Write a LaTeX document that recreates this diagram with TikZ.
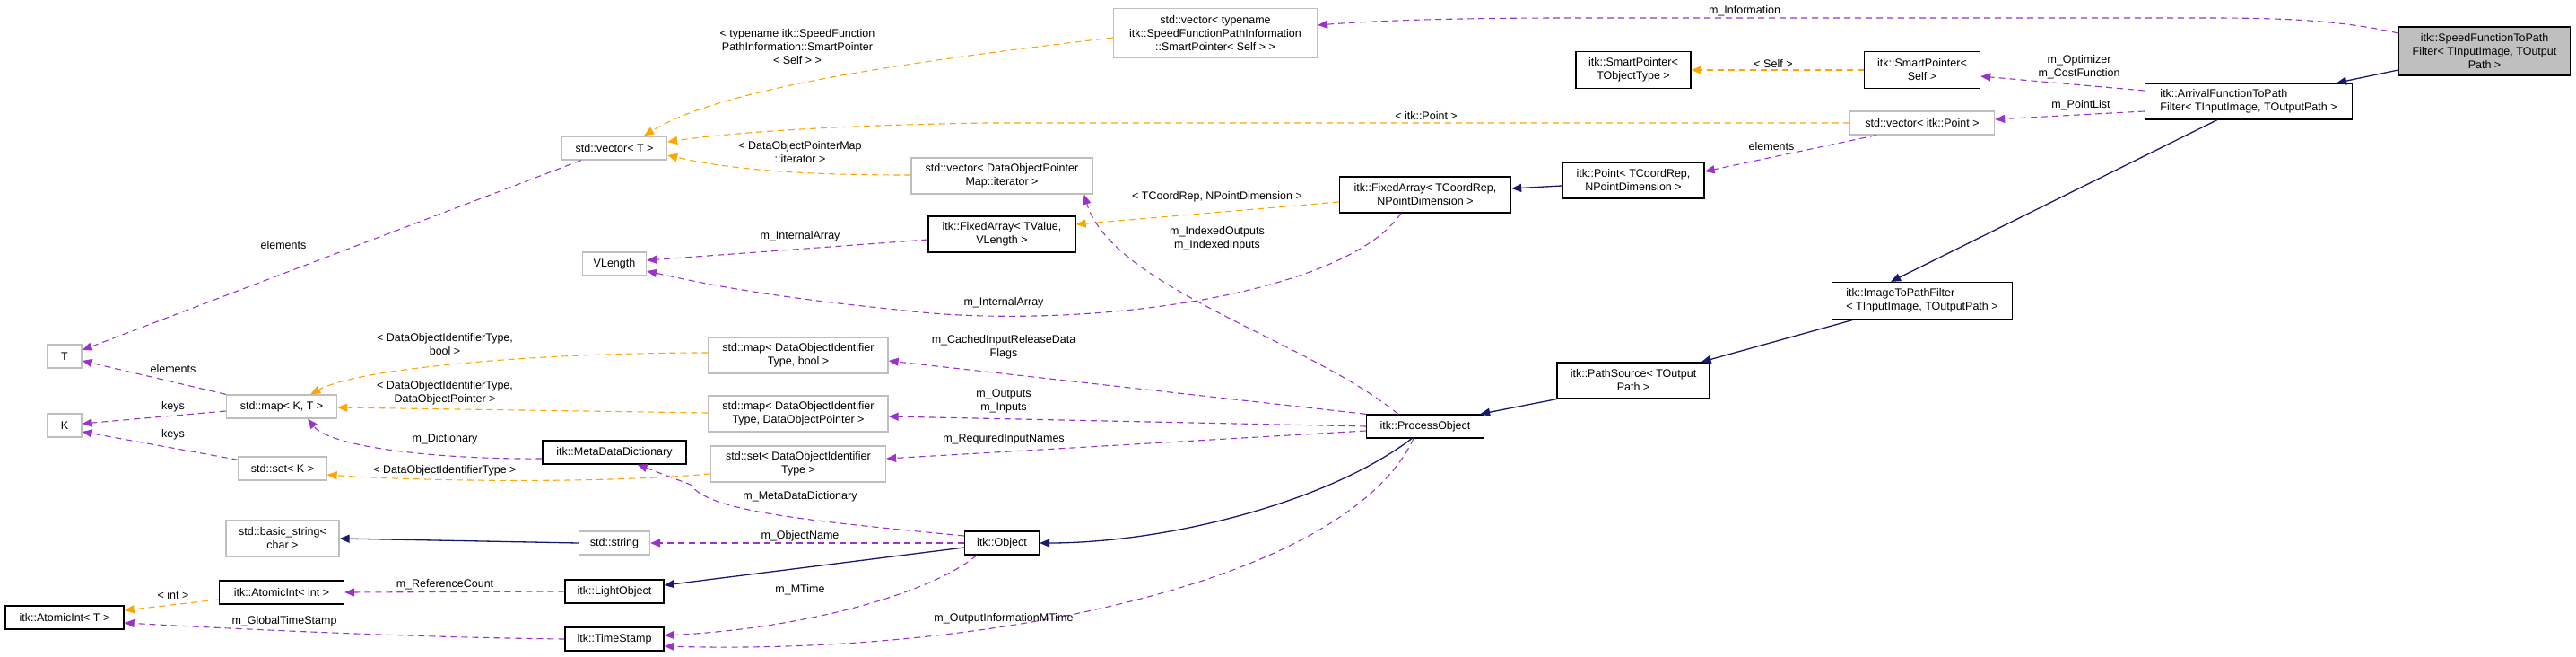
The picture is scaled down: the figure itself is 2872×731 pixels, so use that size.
\documentclass[tikz,border=0pt]{standalone}
\usepackage{fontspec}
\setmainfont{Liberation Sans}
\usetikzlibrary{arrows.meta,calc}
\definecolor{cpur}{HTML}{9A32CD}
\definecolor{corg}{HTML}{FFA500}
\definecolor{cnav}{HTML}{191970}
\definecolor{cgb}{HTML}{BFBFBF}
\begin{document}
\begin{tikzpicture}[x=1pt,y=-1pt,
  every node/.style={font=\fontsize{12.5}{15}\selectfont},
  box/.style={draw=black,line width=1.3pt,inner sep=2pt,minimum height=26pt,align=center},
  gbox/.style={box,draw=cgb},
  lab/.style={align=center,inner sep=1pt},
  tip/.style={-{Triangle[length=11pt,width=9pt]}},
  mem/.style={tip,draw=cpur,line width=1.1pt,dash pattern=on 7pt off 5pt},
  tpl/.style={tip,draw=corg,line width=1.1pt,dash pattern=on 7pt off 5pt},
  inh/.style={tip,draw=cnav,line width=1.3pt}]
\useasboundingbox (0,0) rectangle (2872,731);
% nodes
\node[box,fill=cgb,minimum width=191pt,minimum height=54pt] (sftp) at (2770,57) {itk::SpeedFunctionToPath\\Filter< TInputImage, TOutput\\Path >};
\node[box,minimum width=231pt,minimum height=40pt,align=left] (arr) at (2507,113) {itk::ArrivalFunctionToPath\\Filter< TInputImage, TOutputPath >};
\node[box,minimum width=129pt,minimum height=41pt] (sps) at (2143,78) {itk::SmartPointer<\\Self >};
\node[gbox,minimum width=161pt] (vpt) at (2143,137) {std::vector< itk::Point >};
\node[box,minimum width=201pt,minimum height=41pt,align=left] (itpf) at (2143,335) {itk::ImageToPathFilter\\< TInputImage, TOutputPath >};
\node[box,minimum width=170pt,minimum height=40pt] (ps) at (1821,424) {itk::PathSource< TOutput\\Path >};
\node[box,minimum width=131pt] (po) at (1589,475) {itk::ProcessObject};
\node[box,minimum width=83pt] (obj) at (1117,605) {itk::Object};
\node[gbox,minimum width=227pt,minimum height=55pt] (vsf) at (1355,37) {std::vector< typename\\itk::SpeedFunctionPathInformation\\::SmartPointer< Self > >};
\node[box,minimum width=128pt,minimum height=41pt] (spt) at (1821,78) {itk::SmartPointer<\\TObjectType >};
\node[gbox,minimum width=202pt,minimum height=40pt] (vdo) at (1117,196) {std::vector< DataObjectPointer\\Map::iterator >};
\node[box,minimum width=191pt,minimum height=40pt] (fac) at (1589,217) {itk::FixedArray< TCoordRep,\\NPointDimension >};
\node[box,minimum width=158pt,minimum height=40pt] (pt) at (1821,201) {itk::Point< TCoordRep,\\NPointDimension >};
\node[box,minimum width=164pt,minimum height=40pt] (fav) at (1117,261) {itk::FixedArray< TValue,\\VLength >};
\node[gbox,minimum width=117pt] (vT) at (685,165) {std::vector< T >};
\node[gbox,minimum width=71pt] (vl) at (685,294) {VLength};
\node[gbox,minimum width=38pt] (T) at (72,397) {T};
\node[gbox,minimum width=38pt] (K) at (72,474) {K};
\node[gbox,minimum width=123pt] (mkt) at (314,453) {std::map< K, T >};
\node[gbox,minimum width=98pt] (sk) at (315,522) {std::set< K >};
\node[gbox,minimum width=200pt,minimum height=40pt] (mb) at (890,396) {std::map< DataObjectIdentifier\\Type, bool >};
\node[gbox,minimum width=200pt,minimum height=40pt] (md) at (890,461) {std::map< DataObjectIdentifier\\Type, DataObjectPointer >};
\node[gbox,minimum width=195pt,minimum height=40pt] (sd) at (890,517) {std::set< DataObjectIdentifier\\Type >};
\node[box,minimum width=160pt] (mdd) at (685,504) {itk::MetaDataDictionary};
\node[gbox,minimum width=126pt,minimum height=40pt] (bs) at (315,600) {std::basic\_string<\\char >};
\node[gbox,minimum width=79pt] (str) at (685,605) {std::string};
\node[box,minimum width=110pt] (lo) at (685,659) {itk::LightObject};
\node[box,minimum width=139pt] (ai) at (314,660) {itk::AtomicInt< int >};
\node[box,minimum width=132pt] (aT) at (72,688) {itk::AtomicInt< T >};
\node[box,minimum width=110pt] (ts) at (685,712) {itk::TimeStamp};
% inheritance
\draw[inh] (sftp.west |- 0,78) -- ($(arr.north east)+(-18,0)$);
\draw[inh] ($(arr.south west)+(81,0)$) -- ($(itpf.north)+(-35,0)$);
\draw[inh] ($(itpf.south west)+(25,0)$) -- ($(ps.north east)+(-10,0)$);
\draw[inh] (ps.south west) -- ($(po.north east)+(-5,0)$);
\draw[inh] ($(po.south)+(-15,0)$) .. controls (1480,560) and (1300,605) .. (obj.east);
\draw[inh] (obj.west |- 0,610) -- (lo.east |- 0,652);
\draw[inh] (str.west) -- (bs.east);
\draw[inh] (pt.west |- 0,207) -- (fac.east |- 0,210);
% members / templates
\draw[mem] (sftp.west |- 0,37) .. controls (2600,20) and (2520,20) .. (2450,20) -- (1750,20) .. controls (1600,20) and (1520,24) .. (vsf.east |- 0,28);
\node[lab] (l1) at (1945,12) {m\_Information};
\draw[mem] (arr.west |- 0,101) -- (sps.east |- 0,85);
\node[lab] (l2) at (2318,75) {m\_Optimizer\\m\_CostFunction};
\draw[mem] (arr.west |- 0,124) -- (vpt.east |- 0,133);
\node[lab] (l3) at (2320,117) {m\_PointList};
\draw[tpl] (sps.west) -- (spt.east);
\node[lab] (l4) at (1977,71) {< Self >};
\draw[tpl] (vpt.west) -- (1100,137) .. controls (900,140) and (800,150) .. (vT.east |- 0,158);
\node[lab] (l5) at (1590,129) {< itk::Point >};
\draw[tpl] (vsf.west |- 0,42) .. controls (1000,70) and (800,100) .. ($(vT.north)+(33,0)$);
\node[lab] (l6) at (889,52) {< typename itk::SpeedFunction\\PathInformation::SmartPointer\\< Self > >};
\draw[tpl] (vdo.west |- 0,195) .. controls (900,195) and (820,190) .. (vT.east |- 0,173);
\node[lab] (l7) at (892,170) {< DataObjectPointerMap\\::iterator >};
\draw[mem] ($(vpt.south west)+(30,0)$) -- (pt.east |- 0,191);
\node[lab] (l8) at (1975,163) {elements};
\draw[tpl] (fac.west |- 0,225) -- (fav.east |- 0,250);
\node[lab] (l9) at (1357,219) {< TCoordRep, NPointDimension >};
\draw[mem] (fav.west |- 0,267) -- (vl.east |- 0,290);
\node[lab] (l10) at (892,263) {m\_InternalArray};
\draw[mem] ($(fac.south west)+(69,0)$) .. controls (1500,330) and (1200,370) .. (1000,345) .. controls (850,330) and (780,315) .. (vl.east |- 0,302);
\node[lab] (l11) at (1119,337) {m\_InternalArray};
\draw[mem] ($(po.north west)+(36,0)$) .. controls (1460,380) and (1240,320) .. ($(vdo.south east)+(-10,0)$);
\node[lab] (l12) at (1357,266) {m\_IndexedOutputs\\m\_IndexedInputs};
\draw[mem] ($(vT.south west)+(22,0)$) -- (T.east |- 0,390);
\node[lab] (l13) at (316,273) {elements};
\draw[mem] (po.north west) -- (mb.east |- 0,402);
\node[lab] (l14) at (1119,387) {m\_CachedInputReleaseData\\Flags};
\draw[mem] (po.west) -- (md.east |- 0,464);
\node[lab] (l15) at (1119,447) {m\_Outputs\\m\_Inputs};
\draw[mem] (po.west |- 0,480) -- (sd.east |- 0,511);
\node[lab] (l16) at (1119,489) {m\_RequiredInputNames};
\draw[mem] ($(po.south)+(-13,0)$) .. controls (1500,650) and (1100,730) .. (ts.east |- 0,720);
\node[lab] (l17) at (1119,689) {m\_OutputInformationMTime};
\draw[tpl] (mb.west |- 0,393) .. controls (600,393) and (400,410) .. ($(mkt.north east)+(-30,0)$);
\node[lab] (l18) at (496,384) {< DataObjectIdentifierType,\\bool >};
\draw[tpl] (md.west |- 0,460) -- (mkt.east |- 0,454);
\node[lab] (l19) at (496,438) {< DataObjectIdentifierType,\\DataObjectPointer >};
\draw[tpl] (sd.west |- 0,528) .. controls (650,540) and (450,535) .. (sk.east |- 0,529);
\node[lab] (l20) at (496,524) {< DataObjectIdentifierType >};
\draw[mem] (mkt.north west) -- (T.east |- 0,402);
\node[lab] (l21) at (193,411) {elements};
\draw[mem] (mkt.west |- 0,458) -- (K.east |- 0,472);
\node[lab] (l22) at (193,453) {keys};
\draw[mem] ($(sk.north west)+(0,4)$) -- (K.east |- 0,481);
\node[lab] (l23) at (193,484) {keys};
\draw[mem] (mdd.west |- 0,511) .. controls (500,512) and (370,500) .. ($(mkt.south east)+(-33,0)$);
\node[lab] (l24) at (496,489) {m\_Dictionary};
\draw[mem] (obj.west |- 0,597) .. controls (900,580) and (790,570) .. (770,540) -- ($(mdd.south east)+(-55,0)$);
\node[lab] (l25) at (892,553) {m\_MetaDataDictionary};
\draw[mem] (obj.west |- 0,605) -- (str.east);
\node[lab] (l26) at (892,597) {m\_ObjectName};
\draw[mem] ($(obj.south west)+(14,0)$) .. controls (1040,660) and (900,700) .. (ts.east |- 0,708);
\node[lab] (l27) at (892,657) {m\_MTime};
\draw[mem] (lo.west) -- (ai.east);
\node[lab] (l28) at (496,651) {m\_ReferenceCount};
\draw[tpl] (ai.west |- 0,668) -- (aT.east |- 0,680);
\node[lab] (l29) at (193,663) {< int >};
\draw[mem] (ts.west) .. controls (450,710) and (250,700) .. (aT.east |- 0,694);
\node[lab] (l30) at (317,692) {m\_GlobalTimeStamp};
\end{tikzpicture}
\end{document}
